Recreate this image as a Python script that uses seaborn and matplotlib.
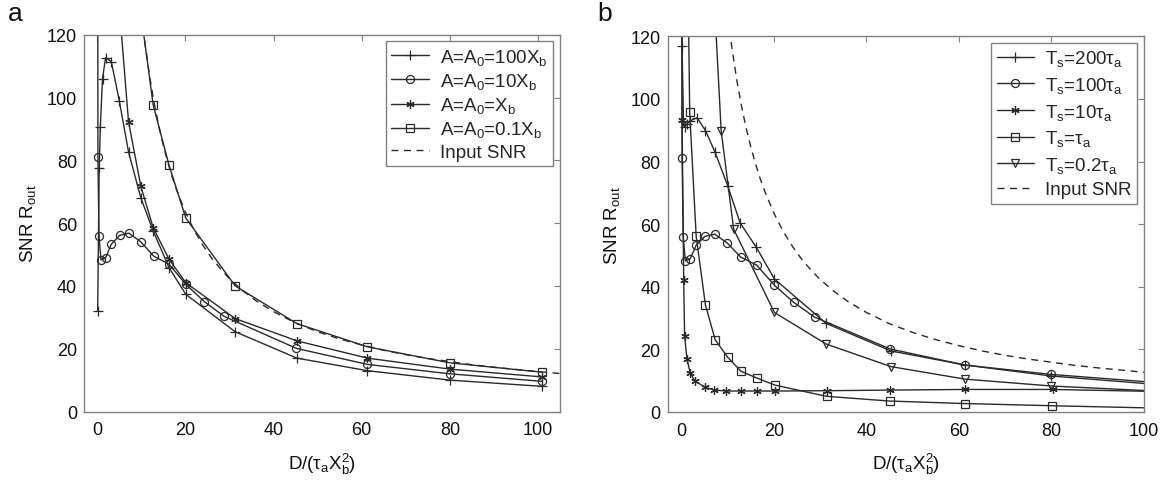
import matplotlib
matplotlib.use("Agg")
import matplotlib.pyplot as plt
import seaborn as sns
import pandas as pd

# ---------------- data: panel a ----------------
a_p100_x = [0.1, 0.45, 0.7, 1.2, 1.9, 3.2, 5.0, 7.1, 9.9, 12.7, 16.3, 20.1, 31.3, 45.3, 61.3, 80, 101]
a_p100_y = [32, 77.4, 90.5, 106, 112.7, 111.4, 99, 82.7, 68, 57.5, 45.8, 37.3, 25.4, 17, 13, 10, 8]

circ_x = [0.05, 0.16, 0.4, 0.85, 1.9, 3.2, 5.1, 7.2, 9.9, 12.8, 16.3, 20.1, 24.3, 28.8, 45.2, 61.3, 80, 101]
circ_y = [250, 81, 56, 48.3, 48.9, 53.3, 56.1, 56.8, 54, 49.5, 46.9, 40.5, 35, 30.3, 20.1, 15, 12, 9.6]

a_ast_x = [3.2, 5.0, 7.1, 9.9, 12.7, 16.3, 20.1, 31.3, 45.3, 61.3, 80, 101]
a_ast_y = [200, 129, 92.3, 71.7, 58.5, 48.5, 41, 29.6, 22.5, 17, 13.5, 11]

a_sq_x = [9.9, 12.7, 16.3, 20.1, 31.3, 45.3, 61.3, 80, 101]
a_sq_y = [127, 97.6, 78.4, 61.6, 40, 28, 20.6, 15.5, 12.5]

snr_x = [10.4, 11, 12, 13, 14, 15, 16, 17, 18, 20, 22, 24, 26, 28, 30, 33, 36, 40,
         45, 50, 55, 60, 65, 70, 75, 80, 85, 90, 95, 100, 105]
snr_y = [122.1, 115.5, 105.8, 97.7, 90.7, 84.7, 79.4, 74.7, 70.6, 63.5, 57.7, 52.9, 48.8,
         45.4, 42.3, 38.5, 35.3, 31.8, 28.2, 25.4, 23.1, 21.2, 19.5, 18.1, 16.9, 15.9,
         14.9, 14.1, 13.4, 12.7, 12.1]

# ---------------- data: panel b ----------------
b_p200_x = [0.05, 0.15, 0.45, 0.7, 1.2, 1.9, 3.4, 5.2, 7.3, 10.0, 12.7, 16.2, 20.1, 31.3, 45.3, 61.3, 80, 101]
b_p200_y = [250, 116.8, 93, 91, 92, 93, 94, 89.9, 82.9, 72.3, 60.4, 52.6, 42.5, 28.3, 19.5, 15, 11.5, 9.0]

b_ast_x = [0.05, 0.15, 0.5, 0.7, 1.2, 1.9, 2.85, 5.0, 7.1, 9.7, 12.9, 16.3, 20.2, 31.4, 45, 61.2, 80.3, 101]
b_ast_y = [250, 93.4, 42.3, 24.2, 17, 12.5, 10.0, 8.0, 7.0, 6.7, 6.7, 6.7, 6.7, 6.8, 7.0, 7.2, 7.2, 6.6]

b_sq_x = [1.5, 1.8, 3.2, 5.2, 7.3, 10.0, 12.9, 16.4, 20.2, 31.4, 45, 61.2, 80.2, 101]
b_sq_y = [130, 95.7, 56.1, 34.2, 23.1, 17.5, 13, 10.8, 8.6, 5.0, 3.5, 2.7, 2.0, 1.3]

b_tri_x = [7.0, 8.6, 11.3, 20.1, 31.3, 45.3, 61.3, 80, 101]
b_tri_y = [135, 89.8, 58.4, 31.8, 21.7, 14.5, 10.5, 8.3, 6.8]

labels_a = [r"A=A$_0$=100X$_b$", r"A=A$_0$=10X$_b$", r"A=A$_0$=X$_b$", r"A=A$_0$=0.1X$_b$", "Input SNR"]
labels_b = [r"T$_s$=200τ$_a$", r"T$_s$=100τ$_a$", r"T$_s$=10τ$_a$", r"T$_s$=τ$_a$", r"T$_s$=0.2τ$_a$", "Input SNR"]
yticks = [0, 20, 40, 60, 80, 100, 120]
xticks = [0, 20, 40, 60, 80, 100]

# ---------------- style ----------------
sns.set_theme(style="white")
plt.rcParams["font.family"] = ["Liberation Sans", "DejaVu Sans"]
plt.rcParams["mathtext.fontset"] = "custom"
plt.rcParams["mathtext.rm"] = "Liberation Sans"
plt.rcParams["mathtext.it"] = "Liberation Sans"
plt.rcParams["mathtext.bf"] = "Liberation Sans:bold"

LC = "#2a2a2a"
SPC = "#808080"

fig = plt.figure(figsize=(11.73, 4.85), dpi=100)
W, H = 1173, 485
ax_a = fig.add_axes([84 / W, 1 - 412.5 / H, 476 / W, (412.5 - 35.7) / H])
ax_b = fig.add_axes([667.5 / W, 1 - 413 / H, 476.5 / W, (413 - 37.3) / H])

ASTERISK = (6, 2, 0)


def series(ax, x, y, marker, label, ms, hollow=True):
    df = pd.DataFrame({"x": x, "y": y})
    n_before = len(ax.lines)
    sns.lineplot(data=df, x="x", y="y", ax=ax, sort=False, estimator=None,
                 errorbar=None, label=label, color=LC, linewidth=1.0)
    line = ax.lines[n_before]
    line.set_linestyle("-")
    line.set_marker(marker)
    line.set_markersize(ms)
    line.set_markeredgewidth(0.9)
    line.set_markeredgecolor(LC)
    line.set_markerfacecolor("none" if hollow else LC)


def snr(ax, label):
    df = pd.DataFrame({"x": snr_x, "y": snr_y})
    n_before = len(ax.lines)
    sns.lineplot(data=df, x="x", y="y", ax=ax, sort=False, estimator=None, errorbar=None,
                 color=LC, linewidth=1.0, label=label)
    ax.lines[n_before].set_linestyle((0, (5, 4)))


# panel a
series(ax_a, a_p100_x, a_p100_y, "+", labels_a[0], 7.5)
series(ax_a, circ_x, circ_y, "o", labels_a[1], 5.8)
series(ax_a, a_ast_x, a_ast_y, ASTERISK, labels_a[2], 6, hollow=False)
series(ax_a, a_sq_x, a_sq_y, "s", labels_a[3], 5.3)
snr(ax_a, labels_a[4])

# panel b
series(ax_b, b_p200_x, b_p200_y, "+", labels_b[0], 7.5)
series(ax_b, circ_x, circ_y, "o", labels_b[1], 5.8)
series(ax_b, b_ast_x, b_ast_y, ASTERISK, labels_b[2], 6, hollow=False)
series(ax_b, b_sq_x, b_sq_y, "s", labels_b[3], 5.3)
series(ax_b, b_tri_x, b_tri_y, "v", labels_b[4], 6.3)
snr(ax_b, labels_b[5])

for ax, xmax, lsp in ((ax_a, 105, 0.22), (ax_b, 100, 0.35)):
    ax.set_xlim(-3, xmax)
    ax.set_ylim(0, 120)
    ax.set_xticks(xticks)
    ax.set_yticks(yticks)
    ax.tick_params(direction="in", length=4, width=0.8, color=SPC, top=True, right=True,
                   labelsize=13, labelcolor="#111111", pad=5)
    ax.tick_params(axis="x", pad=7)
    for s in ax.spines.values():
        s.set_color(SPC)
        s.set_linewidth(1.0)
        s.set_visible(True)
    ax.set_xlabel("D/(τ$_a$X$_b^2$)", fontsize=13.5, color="#111111", labelpad=9)
    ax.set_ylabel("SNR R$_{out}$", fontsize=13.5, color="#111111", labelpad=6)
    leg = ax.legend(loc="upper right", bbox_to_anchor=(1.0, 1.0), borderaxespad=0.35,
                    fontsize=13.5, handlelength=2.0, handletextpad=0.6, labelspacing=lsp,
                    borderpad=0.3, frameon=True, fancybox=False, framealpha=1.0)
    leg.get_frame().set_edgecolor(SPC)
    leg.get_frame().set_linewidth(1.0)

fig.text(15 / W, 1 - 14 / H, "a", fontsize=19, ha="center", va="center", color="#111111")
fig.text(605 / W, 1 - 14 / H, "b", fontsize=19, ha="center", va="center", color="#111111")

fig.savefig("out.png", dpi=100)
